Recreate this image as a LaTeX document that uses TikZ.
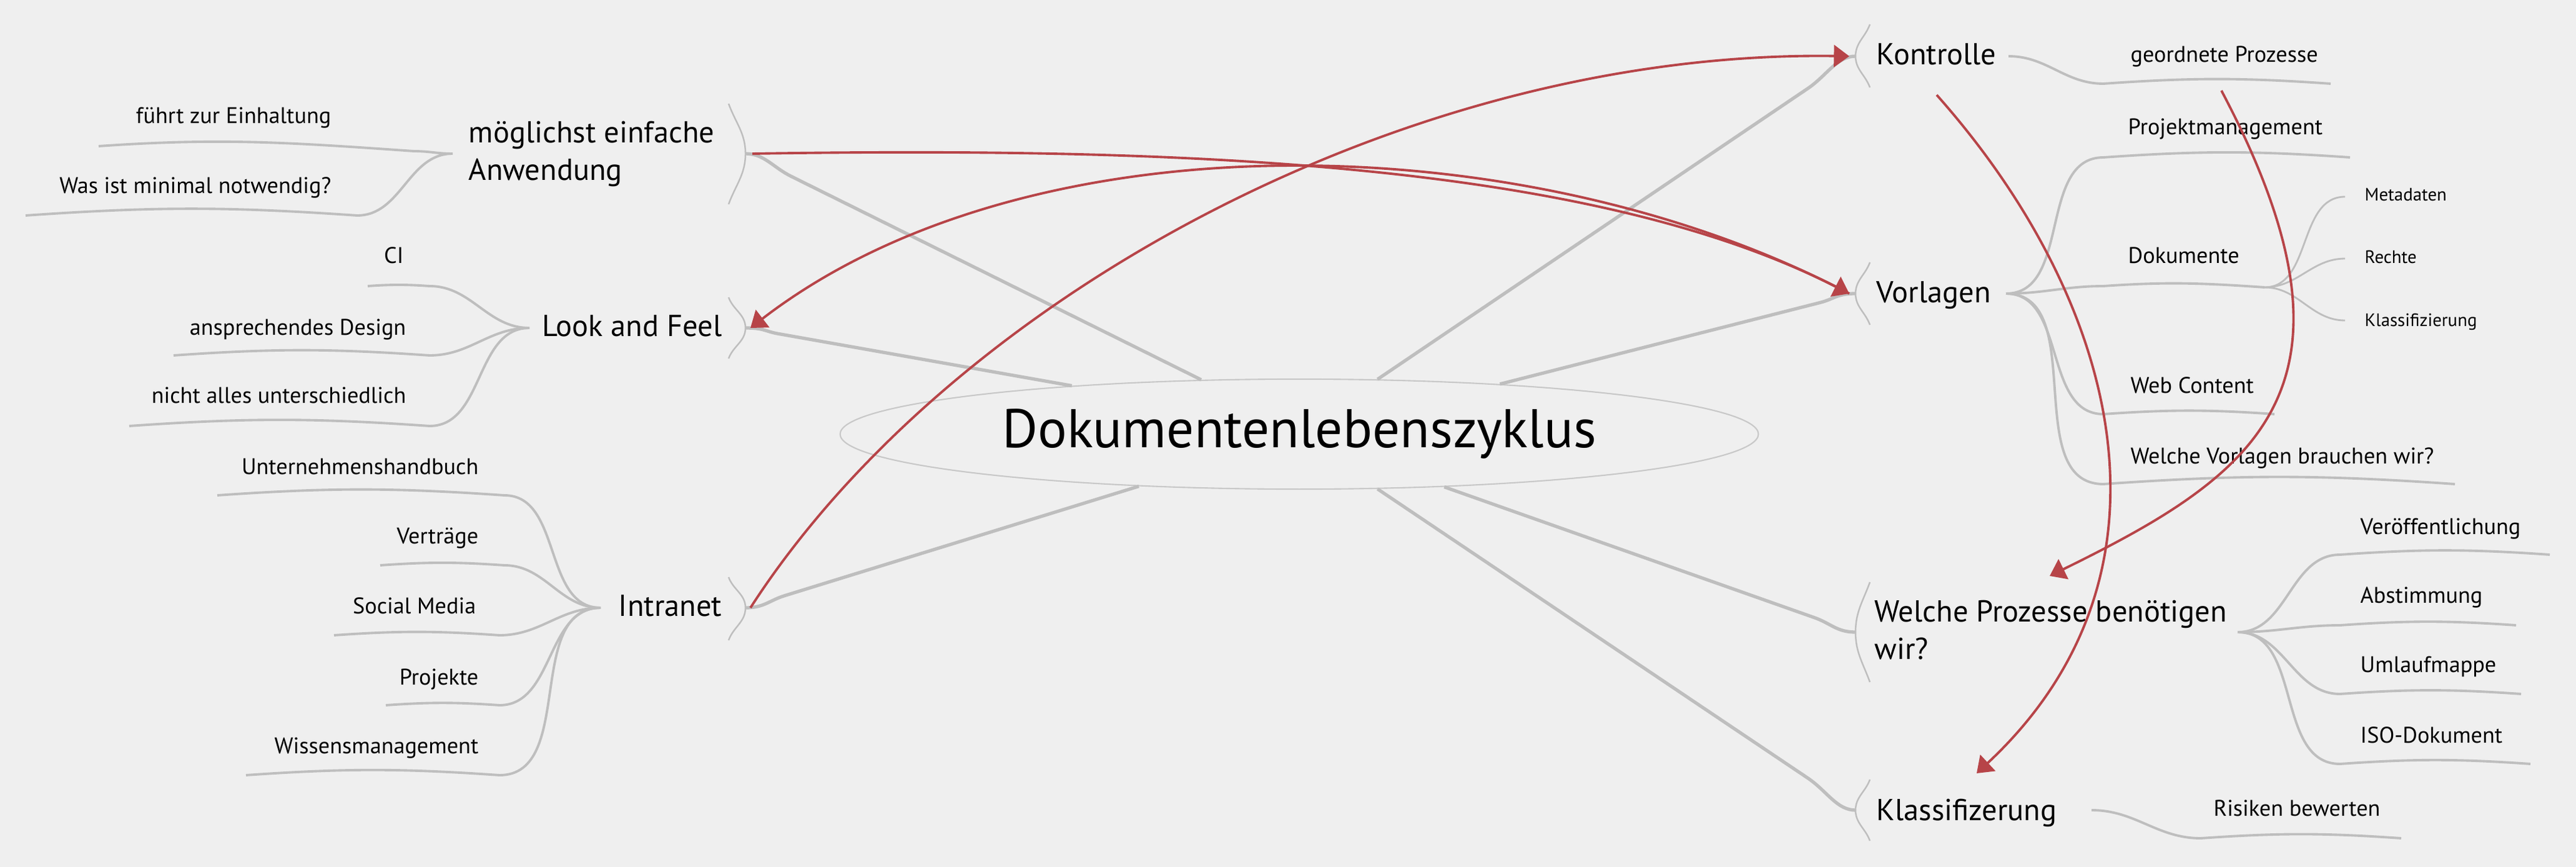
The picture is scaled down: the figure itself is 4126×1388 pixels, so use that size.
\documentclass[tikz,border=0pt]{standalone}
\usepackage{fontspec}
\setmainfont{PT Sans}
\usetikzlibrary{arrows.meta,shapes.geometric,calc}
\definecolor{bg}{RGB}{239,239,239}
\definecolor{ln}{RGB}{190,190,190}
\definecolor{ell}{RGB}{200,200,200}
\definecolor{rel}{RGB}{183,68,72}
\newcommand\linkL[2]{\draw[mainline] (#1) .. controls ($(#1)+(30,0)$) and ($(#1)!0.06!(#2)$) .. ($(#1)!0.1!(#2)$) -- (#2);}
\newcommand\linkR[2]{\draw[mainline] (#1) .. controls ($(#1)+(-30,0)$) and ($(#1)!0.06!(#2)$) .. ($(#1)!0.1!(#2)$) -- (#2);}
\begin{document}
\begin{tikzpicture}[x=0.01cm,y=-0.01cm,
  mainline/.style={draw=ln,line width=1.5pt},
  brline/.style={draw=ln,line width=1.1pt},
  subline/.style={draw=ln,line width=0.8pt},
  bracket/.style={draw=ln,line width=0.7pt},
  relline/.style={draw=rel,line width=1.1pt,-{Triangle[length=7pt,width=10pt]}},
  centrenode/.style={draw=ell,line width=0.6pt,ellipse,minimum width=14.7cm,minimum height=1.76cm,inner sep=0pt,font=\fontsize{24.8}{29}\selectfont},
  topicnode/.style={font=\fontsize{13.8}{17}\selectfont,inner sep=0pt,align=left},
  subnode/.style={font=\fontsize{10.3}{12}\selectfont,inner sep=0pt},
  smallnode/.style={font=\fontsize{8.2}{10}\selectfont,inner sep=0pt}]
\path[use as bounding box,fill=bg] (0,0) rectangle (4126,1388);

% central topic
\node[centrenode] (c) at (2081,695) {Dokumentenlebenszyklus};

% main topics
\node[topicnode,anchor=base west] (kon) at (3005,104) {Kontrolle};
\node[topicnode,anchor=base west] (vor) at (3005,484) {Vorlagen};
\node[topicnode,anchor=base west] (wp) at (3002,1055) {Welche Prozesse benötigen\\wir?};
\node[topicnode,anchor=base west] (kla) at (3005,1313) {Klassifizerung};
\node[topicnode,anchor=base west] (moe) at (750,288) {möglichst einfache\\Anwendung};
\node[topicnode,anchor=base east] (laf) at (1157,538) {Look and Feel};
\node[topicnode,anchor=base east] (int) at (1157,986) {Intranet};

% attach points (bracket middles)
\coordinate (kon-in) at (2972,90);
\coordinate (vor-in) at (2972,470);
\coordinate (wp-in) at (2972,1012);
\coordinate (kla-in) at (2972,1297);
\coordinate (moe-in) at (1194,246);
\coordinate (laf-in) at (1194,525);
\coordinate (int-in) at (1194,973);

% brackets
\draw[bracket] (2995,39) to[out=250,in=90] (kon-in) to[out=270,in=110] (2995,140);
\draw[bracket] (2995,420) to[out=250,in=90] (vor-in) to[out=270,in=110] (2995,520);
\draw[bracket] (2995,932) to[out=250,in=90] (wp-in) to[out=270,in=110] (2995,1092);
\draw[bracket] (2995,1248) to[out=250,in=90] (kla-in) to[out=270,in=110] (2995,1346);
\draw[bracket] (1167,166) to[out=290,in=90] (moe-in) to[out=270,in=70] (1167,327);
\draw[bracket] (1167,476) to[out=290,in=90] (laf-in) to[out=270,in=70] (1167,574);
\draw[bracket] (1167,924) to[out=290,in=90] (int-in) to[out=270,in=70] (1167,1025);

% central connectors
\linkL{moe-in}{c.151.9}
\linkL{laf-in}{c.168.9}
\linkL{int-in}{c.198.7}
\linkR{kon-in}{c.35}
\linkR{vor-in}{c.14.9}
\linkR{wp-in}{c.-20.5}
\linkR{kla-in}{c.-35.4}

% ---------- right side subtopics ----------
\coordinate (kon-hub) at (3217,90);
\coordinate (geo-s) at (3369,134); \coordinate (geo-e) at (3733,134);
\node[subnode,anchor=base west] (geo) at (3412,100) {geordnete Prozesse};
\draw[brline] (kon-hub) to[out=0,in=180] (geo-s) to[out=4,in=176] (geo-e);

\coordinate (vor-hub) at (3213,470);
\coordinate (pm-s) at (3369,252); \coordinate (pm-e) at (3764,252);
\coordinate (dok-s) at (3369,458); \coordinate (dok-hub) at (3627,460);
\coordinate (web-s) at (3369,663); \coordinate (web-e) at (3643,663);
\coordinate (wv-s) at (3369,775); \coordinate (wv-e) at (3932,775);
\node[subnode,anchor=base west] (pm) at (3408,216) {Projektmanagement};
\node[subnode,anchor=base west] (dok) at (3408,422) {Dokumente};
\node[subnode,anchor=base west] (web) at (3412,629) {Web Content};
\node[subnode,anchor=base west] (wv) at (3412,742) {Welche Vorlagen brauchen wir?};
\draw[brline] (vor-hub) to[out=0,in=180] (pm-s) to[out=4,in=176] (pm-e);
\draw[brline] (vor-hub) to[out=0,in=180] (dok-s) to[out=4,in=176] (dok-hub);
\draw[brline] (vor-hub) to[out=0,in=180] (web-s) to[out=4,in=176] (web-e);
\draw[brline] (vor-hub) to[out=0,in=180] (wv-s) to[out=4,in=176] (wv-e);

\coordinate (meta-in) at (3756,315);
\coordinate (rech-in) at (3756,414);
\coordinate (klf-in) at (3756,513);
\node[smallnode,anchor=base west] (meta) at (3787,321) {Metadaten};
\node[smallnode,anchor=base west] (rech) at (3787,422) {Rechte};
\node[smallnode,anchor=base west] (klf) at (3787,522) {Klassifizierung};
\draw[subline] (dok-hub) to[out=0,in=180] (meta-in);
\draw[subline] (dok-hub) to[out=0,in=180] (rech-in);
\draw[subline] (dok-hub) to[out=0,in=180] (klf-in);

\coordinate (wp-hub) at (3584,1012);
\coordinate (ver-s) at (3748,888); \coordinate (ver-e) at (4084,888);
\coordinate (abs-s) at (3748,1001); \coordinate (abs-e) at (4030,1001);
\coordinate (uml-s) at (3748,1111); \coordinate (uml-e) at (4038,1111);
\coordinate (iso-s) at (3748,1223); \coordinate (iso-e) at (4053,1223);
\node[subnode,anchor=base west] (ver) at (3780,855) {Veröffentlichung};
\node[subnode,anchor=base west] (abs) at (3780,965) {Abstimmung};
\node[subnode,anchor=base west] (uml) at (3780,1076) {Umlaufmappe};
\node[subnode,anchor=base west] (iso) at (3780,1189) {ISO-Dokument};
\draw[brline] (wp-hub) to[out=0,in=180] (ver-s) to[out=4,in=176] (ver-e);
\draw[brline] (wp-hub) to[out=0,in=180] (abs-s) to[out=4,in=176] (abs-e);
\draw[brline] (wp-hub) to[out=0,in=180] (uml-s) to[out=4,in=176] (uml-e);
\draw[brline] (wp-hub) to[out=0,in=180] (iso-s) to[out=4,in=176] (iso-e);

\coordinate (kla-hub) at (3350,1297);
\coordinate (ris-s) at (3525,1342); \coordinate (ris-e) at (3846,1342);
\node[subnode,anchor=base west] (ris) at (3545,1306) {Risiken bewerten};
\draw[brline] (kla-hub) to[out=0,in=180] (ris-s) to[out=4,in=176] (ris-e);

% ---------- left side subtopics ----------
\coordinate (moe-hub) at (725,246);
\coordinate (fz-s) at (663,242); \coordinate (fz-e) at (158,234);
\coordinate (wim-s) at (572,345); \coordinate (wim-e) at (41,345);
\node[subnode,anchor=base east] (fz) at (531,198) {führt zur Einhaltung};
\node[subnode,anchor=base east] (wim) at (531,310) {Was ist minimal notwendig?};
\draw[brline] (moe-hub) to[out=180,in=0] (fz-s) to[out=176,in=4] (fz-e);
\draw[brline] (moe-hub) to[out=180,in=0] (wim-s) to[out=176,in=4] (wim-e);

\coordinate (laf-hub) at (848,525);
\coordinate (ci-s) at (688,458); \coordinate (ci-e) at (589,458);
\coordinate (ad-s) at (688,569); \coordinate (ad-e) at (278,569);
\coordinate (na-s) at (688,682); \coordinate (na-e) at (207,682);
\node[subnode,anchor=base east] (ci) at (647,421) {CI};
\node[subnode,anchor=base east] (ad) at (651,536) {ansprechendes Design};
\node[subnode,anchor=base east] (na) at (651,645) {nicht alles unterschiedlich};
\draw[brline] (laf-hub) to[out=180,in=0] (ci-s) to[out=176,in=4] (ci-e);
\draw[brline] (laf-hub) to[out=180,in=0] (ad-s) to[out=176,in=4] (ad-e);
\draw[brline] (laf-hub) to[out=180,in=0] (na-s) to[out=176,in=4] (na-e);

\coordinate (int-hub) at (962,973);
\coordinate (uh-s) at (808,793); \coordinate (uh-e) at (348,793);
\coordinate (vt-s) at (808,905); \coordinate (vt-e) at (609,905);
\coordinate (sm-s) at (800,1017); \coordinate (sm-e) at (535,1017);
\coordinate (pj-s) at (800,1129); \coordinate (pj-e) at (618,1129);
\coordinate (wm-s) at (800,1241); \coordinate (wm-e) at (394,1241);
\node[subnode,anchor=base east] (uh) at (767,759) {Unternehmenshandbuch};
\node[subnode,anchor=base east] (vt) at (767,870) {Verträge};
\node[subnode,anchor=base east] (sm) at (763,982) {Social Media};
\node[subnode,anchor=base east] (pj) at (767,1096) {Projekte};
\node[subnode,anchor=base east] (wm) at (767,1206) {Wissensmanagement};
\draw[brline] (int-hub) to[out=180,in=0] (uh-s) to[out=176,in=4] (uh-e);
\draw[brline] (int-hub) to[out=180,in=0] (vt-s) to[out=176,in=4] (vt-e);
\draw[brline] (int-hub) to[out=180,in=0] (sm-s) to[out=176,in=4] (sm-e);
\draw[brline] (int-hub) to[out=180,in=0] (pj-s) to[out=176,in=4] (pj-e);
\draw[brline] (int-hub) to[out=180,in=0] (wm-s) to[out=176,in=4] (wm-e);

% ---------- relationships ----------
\coordinate (moe-out) at (1205,246);
\coordinate (int-out) at (1202,973);
\coordinate (kon-out) at (3102,152);
\coordinate (geo-out) at (3558,145);
\coordinate (kon-arr) at (2962,90);
\coordinate (vor-arr) at (2962,470);
\coordinate (laf-arr) at (1202,525);
\coordinate (kla-arr) at (3166,1238);
\coordinate (wp-arr) at (3283,922);
\draw[relline] (moe-out) .. controls (1900,235) and (2550,260) .. (vor-arr);
\draw[relline] (vor-arr) .. controls (2450,200) and (1650,180) .. (laf-arr);
\draw[relline] (int-out) .. controls (1520,480) and (2250,80) .. (kon-arr);
\draw[relline] (kon-out) .. controls (3396,483) and (3508,919) .. (kla-arr);
\draw[relline] (geo-out) .. controls (3811,623) and (3613,760) .. (wp-arr);
\end{tikzpicture}
\end{document}
